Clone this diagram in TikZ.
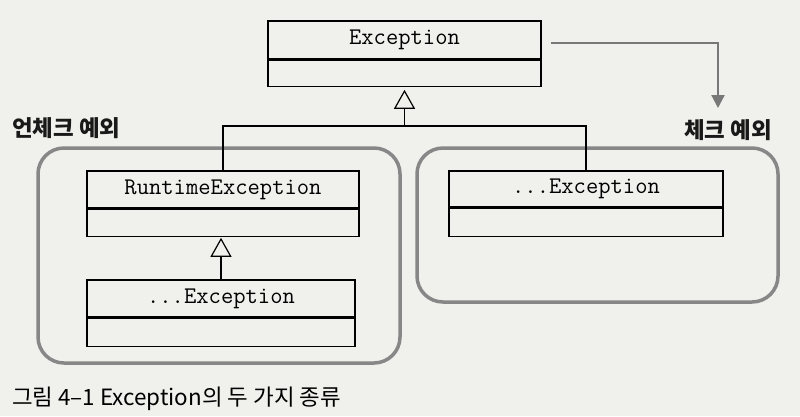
\documentclass[tikz,border=0pt]{standalone}
\usepackage{fontspec}
\newfontfamily\kor{Noto Sans CJK KR}
\usetikzlibrary{arrows.meta}
\definecolor{paper}{rgb}{0.94,0.94,0.93}
\definecolor{framecol}{rgb}{0.53,0.53,0.53}
\definecolor{linkcol}{rgb}{0.47,0.47,0.47}
\tikzset{
  namepart/.style={draw,line width=1.2bp,minimum width=272bp,minimum height=37bp,inner sep=0pt,
    font=\fontsize{24}{24}\selectfont\ttfamily},
  restpart/.style={draw,line width=1.2bp,minimum width=272bp,minimum height=27bp,inner sep=0pt,anchor=north},
  group/.style={draw=framecol,line width=3.5bp,rounded corners=26bp},
  grouplabel/.style={inner sep=0pt,text=black!90,font=\kor\bfseries\fontsize{22.5}{22.5}\selectfont},
  gen/.style={line width=1.2bp,-{Triangle[open,width=21bp,length=19bp]}},
  flow/.style={draw=linkcol,line width=2.2bp,-{Triangle[width=13bp,length=13bp]},linkcol},
}
\begin{document}
\begin{tikzpicture}[x=1bp,y=-1bp]
  \fill[paper] (0,0) rectangle (800,416);
  \useasboundingbox (0,0) rectangle (800,416);
%%
  % Groups
  \draw[group] (38,148) rectangle (400,363);
  \draw[group] (417,148) rectangle (778,302);
  \node[grouplabel,anchor=base west] (unchecked) at (12,136) {언체크 예외};
  \node[grouplabel,anchor=base east] (checked) at (772,138) {체크 예외};
  % Node: Exception
  \node[namepart,minimum width=273bp,minimum height=38bp] (exc) at (404.5,40) {Exception};
  \node[restpart,minimum width=273bp,minimum height=26bp] (exc-b) at (exc.south) {};
  % Node: RuntimeException
  \node[namepart] (rt) at (223,189.5) {RuntimeException};
  \node[restpart] (rt-b) at (rt.south) {};
  % Node: ...Exception (checked)
  \node[namepart,minimum width=274bp,minimum height=36bp] (chk) at (586,189) {...Exception};
  \node[restpart,minimum width=274bp,minimum height=28bp] (chk-b) at (chk.south) {};
  % Node: ...Exception (unchecked)
  \node[namepart,minimum width=268bp] (sub) at (221,298.5) {...Exception};
  \node[restpart,minimum width=268bp,minimum height=28bp] (sub-b) at (sub.south) {};
  % Edge: RuntimeException, ...Exception -> Exception
  \coordinate (join) at (exc-b.south |- 0,126);
  \draw[gen,shorten >=3bp] (join) -- (exc-b.south);
  \draw[line width=1.2bp] (rt.north) |- (join);
  \draw[line width=1.2bp] (chk.north) |- (join);
  % Edge: ...Exception -> RuntimeException
  \draw[gen,shorten >=1bp] (sub.north) -- (sub.north |- rt-b.south);
  % Edge: Exception -> checked
  \coordinate (chk-in) at (718,108);
  \draw[flow] ([xshift=9bp,yshift=-3bp]exc.east) -| (chk-in);
  % Caption
  \node[inner sep=0pt,anchor=base west,font=\kor\fontsize{22.5}{22.5}\selectfont] (caption) at (12,405)
    {그림 4–1 Exception의 두 가지 종류};
%
\end{tikzpicture}
\end{document}
